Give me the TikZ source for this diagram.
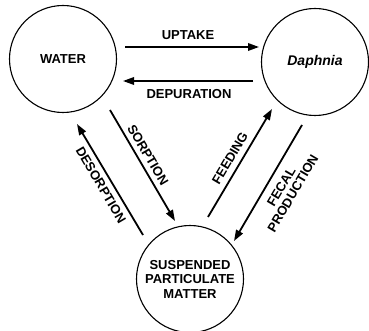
\documentclass[tikz,border=0pt]{standalone}
\usepackage{fontspec}
\setmainfont{Liberation Sans}
\usetikzlibrary{arrows.meta}
\begin{document}
\begin{tikzpicture}[x=1pt,y=-1pt,
  comp/.style={draw,circle,line width=1.1pt,minimum size=107pt,inner sep=0pt,font=\bfseries\fontsize{13}{14.5}\selectfont,align=center},
  flow/.style={line width=1.8pt,-{Triangle[length=11pt,width=7.5pt]}},
  lbl/.style={font=\bfseries\fontsize{13}{13.5}\selectfont,inner sep=0pt,align=center}]
\useasboundingbox (0,0) rectangle (369,331);
\node[comp] (water) at (63,59) {WATER};
\node[comp] (daph) at (315,62) {\fontsize{14}{16}\selectfont\itshape Daphnia};
\node[comp] (spm) at (190,279) {SUSPENDED\\PARTICULATE\\MATTER};
\coordinate (u1) at (125,47); \coordinate (u2) at (259,47);
\coordinate (d1) at (253,81); \coordinate (d2) at (123,81);
\coordinate (s1) at (110,110); \coordinate (s2) at (175,221);
\coordinate (ds1) at (143,235); \coordinate (ds2) at (77,124);
\coordinate (f1) at (208,217); \coordinate (f2) at (272,109);
\coordinate (fp1) at (302,125); \coordinate (fp2) at (234,241);
\draw[flow] (u1) -- (u2);
\draw[flow] (d1) -- (d2);
\draw[flow] (s1) -- (s2);
\draw[flow] (ds1) -- (ds2);
\draw[flow] (f1) -- (f2);
\draw[flow] (fp1) -- (fp2);
\node[lbl] (lu) at (188,35) {UPTAKE};
\node[lbl] (ld) at (189,94) {DEPURATION};
\node[lbl,rotate=-59.5] (ls) at (148,155) {SORPTION};
\node[lbl,rotate=-59.5] (lds) at (101,185) {DESORPTION};
\node[lbl,rotate=59.5] (lf) at (230,158) {FEEDING};
\node[lbl,rotate=59.5] (lfp) at (287,190) {FECAL\\PRODUCTION};
\end{tikzpicture}
\end{document}
